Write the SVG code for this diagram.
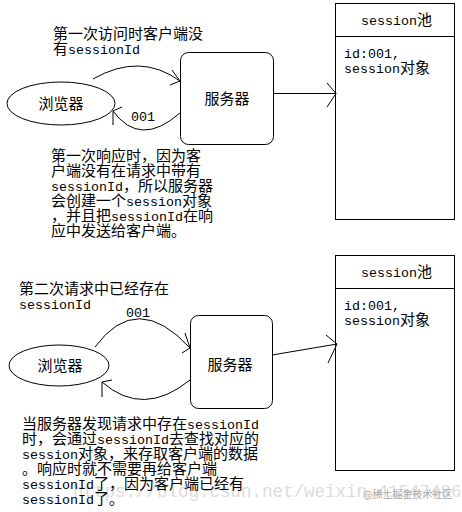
<svg xmlns="http://www.w3.org/2000/svg" width="462" height="512" viewBox="0 0 462 512">
<style>
.t{font-family:"Noto Sans CJK SC","Noto Sans CJK JP",sans-serif;font-size:15px;fill:#000}
.m{font-family:"Liberation Mono","DejaVu Sans Mono",monospace;font-size:13.33px}
.s{fill:none;stroke:#000;stroke-width:1}
.wm{font-family:"Liberation Mono",monospace;font-size:17.5px;fill:#dcdcdc}
.wm2{font-family:"Noto Sans CJK SC",sans-serif;font-size:10px;fill:#a8a8a8}
</style>
<rect width="462" height="512" fill="#fff"/>
<text class="wm" x="73" y="497">https://blog.csdn.net/weixin_41547486</text>
<text class="wm2" x="363" y="498">@稀土掘金技术社区</text>

<!-- Top scene -->
<g id="browser1"><ellipse class="s" cx="61" cy="103.5" rx="54" ry="21.5"/><text class="t" x="61" y="108.5" text-anchor="middle">浏览器</text></g>
<g id="server1"><rect class="s" x="180.5" y="52.5" width="93" height="92" rx="8"/><text class="t" x="227" y="103.5" text-anchor="middle">服务器</text></g>
<g id="pool1"><rect class="s" x="335.5" y="3.5" width="119" height="216"/><line class="s" x1="335.5" y1="36.5" x2="454.5" y2="36.5"/>
<text class="t" x="361" y="24.5"><tspan class="m">session</tspan>池</text>
<text class="t" x="344" y="57.5"><tspan class="m">id:001,</tspan></text>
<text class="t" x="344" y="72.5"><tspan class="m">session</tspan>对象</text></g>

<!-- Bottom scene -->
<g id="browser2"><ellipse class="s" cx="59" cy="365.5" rx="50" ry="20.5"/><text class="t" x="60" y="370.5" text-anchor="middle">浏览器</text></g>
<g id="server2"><rect class="s" x="190.5" y="315.5" width="82" height="93" rx="8"/><text class="t" x="230" y="369.5" text-anchor="middle">服务器</text></g>
<g id="pool2"><rect class="s" x="335.5" y="255.5" width="119" height="215"/><line class="s" x1="335.5" y1="288.5" x2="454.5" y2="288.5"/>
<text class="t" x="361" y="276.5"><tspan class="m">session</tspan>池</text>
<text class="t" x="344" y="309.5"><tspan class="m">id:001,</tspan></text>
<text class="t" x="344" y="324.5"><tspan class="m">session</tspan>对象</text></g>

<g id="connectors">
<path class="s" d="M93,79 Q140,52 180,81"/>
<path class="s" d="M172,70 L180,81 L170,85"/>
<path class="s" d="M180,113 Q140,148 113,111"/>
<path class="s" d="M122,107 L113,111 L113,125"/>
<path class="s" d="M273,93.5 H336"/>
<path class="s" d="M327,83 L336,93.5 L327,107"/>
<text class="t m" x="131" y="121">001</text>

<path class="s" d="M95,347 Q137,290 190,348"/>
<path class="s" d="M185,333 L190,348 L182,353"/>
<path class="s" d="M190,380 Q143,418 102,382"/>
<path class="s" d="M112,380 L102,382 L102,397"/>
<path class="s" d="M272,355 L337,344"/>
<path class="s" d="M326,335 L337,344 L328,363"/>
<text class="t m" x="126" y="317">001</text>
</g>

<g id="notes">
<text class="t" x="53" y="38.5">第一次访问时客户端没</text>
<text class="t" x="53" y="53.5">有<tspan class="m">sessionId</tspan></text>

<text class="t" x="51" y="160.5">第一次响应时，因为客</text>
<text class="t" x="51" y="175.5">户端没有在请求中带有</text>
<text class="t" x="51" y="190.5"><tspan class="m">sessionId</tspan>，所以服务器</text>
<text class="t" x="51" y="205.5">会创建一个<tspan class="m">session</tspan>对象</text>
<text class="t" x="51" y="220.5">，并且把<tspan class="m">sessionId</tspan>在响</text>
<text class="t" x="51" y="235.5">应中发送给客户端。</text>

<text class="t" x="19" y="293.5">第二次请求中已经存在</text>
<text class="t" x="19" y="308.5"><tspan class="m">sessionId</tspan></text>

<text class="t" x="22" y="428.5">当服务器发现请求中存在<tspan class="m">sessionId</tspan></text>
<text class="t" x="22" y="443.5">时，会通过<tspan class="m">sessionId</tspan>去查找对应的</text>
<text class="t" x="22" y="458.5"><tspan class="m">session</tspan>对象，来存取客户端的数据</text>
<text class="t" x="22" y="473.5">。响应时就不需要再给客户端</text>
<text class="t" x="22" y="488.5"><tspan class="m">sessionId</tspan>了，因为客户端已经有</text>
<text class="t" x="22" y="503.5"><tspan class="m">sessionId</tspan>了。</text>
</g>
</svg>
